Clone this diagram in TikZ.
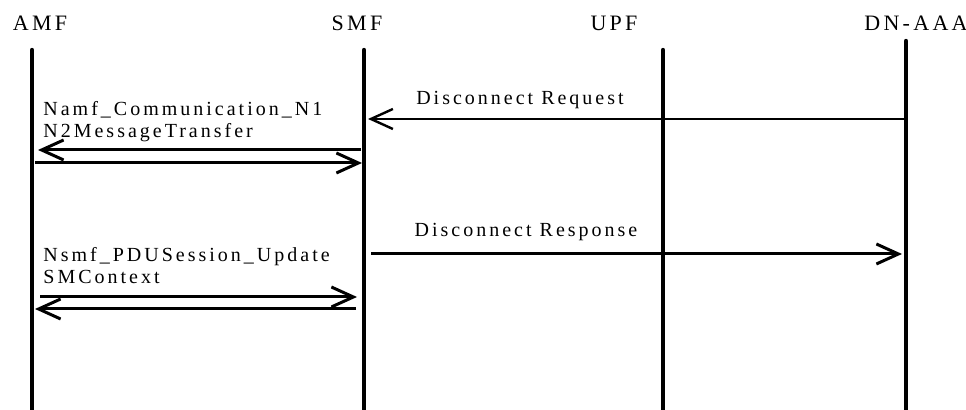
\documentclass[tikz,border=0pt]{standalone}
\usepackage{fontspec}
\setmainfont[LetterSpace=15]{Liberation Serif}
\usetikzlibrary{arrows.meta,positioning}

\tikzset{
	entity/.style={inner sep=0pt, font=\fontsize{11}{13}\selectfont, anchor=base},
	lifeline/.style={line width=2.2pt, line cap=round},
	msg/.style={line width=1.5pt, -{Straight Barb[length=11pt,width=10pt]}},
	msglabel/.style={inner sep=0pt, align=left, font=\fontsize{10}{11}\selectfont},
}

\begin{document}
\begin{tikzpicture}[x=0.5pt,y=-0.5pt]
		\useasboundingbox (0,0) rectangle (966,410);
		% entities
		\node[entity] (amf) at (40,31) {AMF};
		\node[entity] (smf) at (357,31) {SMF};
		\node[entity] (upf) at (614,31) {UPF};
		\node[entity] (aaa) at (916,31) {DN-AAA};
		\coordinate (amf top) at (32,50);
		\coordinate (amf bot) at (32,412);
		\coordinate (smf top) at (364,50);
		\coordinate (smf bot) at (364,412);
		\coordinate (upf top) at (663,50);
		\coordinate (upf bot) at (663,412);
		\coordinate (aaa top) at (906,41);
		\coordinate (aaa bot) at (906,412);
		\foreach \e in {amf,smf,upf,aaa}
			\draw[lifeline] (\e\space top) -- (\e\space bot);
		% message end points
		\coordinate (req a) at (904,119);
		\coordinate (req b) at (368,119);
		\coordinate (n1 a) at (361,150);
		\coordinate (n1 b) at (38,150);
		\coordinate (n2 a) at (35,163);
		\coordinate (n2 b) at (362,163);
		\coordinate (rsp a) at (371,254);
		\coordinate (rsp b) at (902,254);
		\coordinate (u1 a) at (40,297);
		\coordinate (u1 b) at (357,297);
		\coordinate (u2 a) at (356,309);
		\coordinate (u2 b) at (35,309);
		% labels
		\node[msglabel, anchor=base] (reqlbl) at (520,105) {Disconnect Request};
		\node[msglabel, anchor=base] (rsplbl) at (526,237) {Disconnect Response};
		\node[msglabel, anchor=north west] (n1lbl) at (43,101) {Namf\_Communication\_N1\\N2MessageTransfer};
		\node[msglabel, anchor=north west] (u1lbl) at (43,247) {Nsmf\_PDUSession\_Update\\SMContext};
		% messages
		\draw[msg, line width=1.2pt] (req a) -- (req b);
		\draw[msg] (n1 a) -- (n1 b);
		\draw[msg] (n2 a) -- (n2 b);
		\draw[msg] (rsp a) -- (rsp b);
		\draw[msg] (u1 a) -- (u1 b);
		\draw[msg] (u2 a) -- (u2 b);
	\end{tikzpicture}
\end{document}
